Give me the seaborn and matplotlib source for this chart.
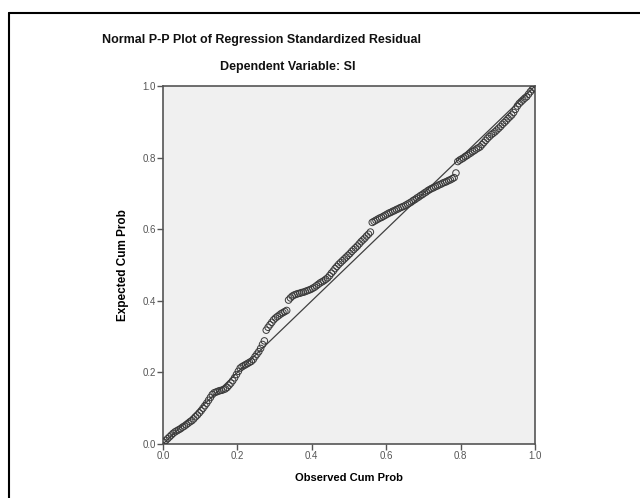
import matplotlib
matplotlib.use("Agg")
import matplotlib.pyplot as plt
import seaborn as sns
import pandas as pd

observed = [0.0025, 0.0075, 0.0125, 0.0175, 0.0225, 0.0275, 0.0325, 0.0375, 0.0425, 0.0475,
            0.0525, 0.0575, 0.0625, 0.0675, 0.0725, 0.0775, 0.0825, 0.0875, 0.0925, 0.0975,
            0.1025, 0.1075, 0.1125, 0.1175, 0.1225, 0.1275, 0.1325, 0.1375, 0.1425, 0.1475,
            0.1525, 0.1575, 0.1625, 0.1675, 0.1725, 0.1775, 0.1825, 0.1875, 0.1925, 0.1975,
            0.2025, 0.2075, 0.2125, 0.2175, 0.2225, 0.2275, 0.2325, 0.2375, 0.2425, 0.2475,
            0.2525, 0.2575, 0.2625, 0.2675, 0.2725, 0.2775, 0.2825, 0.2875, 0.2925, 0.2975,
            0.3025, 0.3075, 0.3125, 0.3175, 0.3225, 0.3275, 0.3325, 0.3375, 0.3425, 0.3475,
            0.3525, 0.3575, 0.3625, 0.3675, 0.3725, 0.3775, 0.3825, 0.3875, 0.3925, 0.3975,
            0.4025, 0.4075, 0.4125, 0.4175, 0.4225, 0.4275, 0.4325, 0.4375, 0.4425, 0.4475,
            0.4525, 0.4575, 0.4625, 0.4675, 0.4725, 0.4775, 0.4825, 0.4875, 0.4925, 0.4975,
            0.5025, 0.5075, 0.5125, 0.5175, 0.5225, 0.5275, 0.5325, 0.5375, 0.5425, 0.5475,
            0.5525, 0.5575, 0.5625, 0.5675, 0.5725, 0.5775, 0.5825, 0.5875, 0.5925, 0.5975,
            0.6025, 0.6075, 0.6125, 0.6175, 0.6225, 0.6275, 0.6325, 0.6375, 0.6425, 0.6475,
            0.6525, 0.6575, 0.6625, 0.6675, 0.6725, 0.6775, 0.6825, 0.6875, 0.6925, 0.6975,
            0.7025, 0.7075, 0.7125, 0.7175, 0.7225, 0.7275, 0.7325, 0.7375, 0.7425, 0.7475,
            0.7525, 0.7575, 0.7625, 0.7675, 0.7725, 0.7775, 0.7825, 0.7875, 0.7925, 0.7975,
            0.8025, 0.8075, 0.8125, 0.8175, 0.8225, 0.8275, 0.8325, 0.8375, 0.8425, 0.8475,
            0.8525, 0.8575, 0.8625, 0.8675, 0.8725, 0.8775, 0.8825, 0.8875, 0.8925, 0.8975,
            0.9025, 0.9075, 0.9125, 0.9175, 0.9225, 0.9275, 0.9325, 0.9375, 0.9425, 0.9475,
            0.9525, 0.9575, 0.9625, 0.9675, 0.9725, 0.9775, 0.9825, 0.9875, 0.9925, 0.9975]
expected = [0.005, 0.010, 0.015, 0.020, 0.025, 0.030, 0.034, 0.037, 0.040, 0.043,
            0.047, 0.050, 0.054, 0.058, 0.062, 0.065, 0.070, 0.076, 0.081, 0.087,
            0.093, 0.100, 0.107, 0.114, 0.122, 0.130, 0.138, 0.143, 0.145, 0.147,
            0.149, 0.150, 0.152, 0.154, 0.158, 0.164, 0.170, 0.177, 0.185, 0.194,
            0.203, 0.212, 0.216, 0.219, 0.222, 0.225, 0.228, 0.231, 0.236, 0.244,
            0.251, 0.258, 0.267, 0.278, 0.288, 0.318, 0.326, 0.333, 0.340, 0.347,
            0.352, 0.356, 0.360, 0.364, 0.367, 0.370, 0.373, 0.402, 0.408, 0.413,
            0.416, 0.418, 0.420, 0.421, 0.423, 0.424, 0.426, 0.428, 0.430, 0.432,
            0.435, 0.438, 0.442, 0.446, 0.450, 0.453, 0.456, 0.460, 0.464, 0.470,
            0.477, 0.483, 0.490, 0.496, 0.502, 0.507, 0.512, 0.517, 0.522, 0.527,
            0.532, 0.538, 0.543, 0.548, 0.553, 0.559, 0.565, 0.570, 0.575, 0.581,
            0.586, 0.592, 0.619, 0.622, 0.625, 0.628, 0.631, 0.633, 0.636, 0.639,
            0.642, 0.645, 0.647, 0.650, 0.652, 0.655, 0.657, 0.660, 0.662, 0.664,
            0.667, 0.670, 0.673, 0.676, 0.680, 0.683, 0.687, 0.690, 0.694, 0.697,
            0.701, 0.704, 0.708, 0.711, 0.714, 0.716, 0.719, 0.721, 0.724, 0.726,
            0.729, 0.731, 0.733, 0.736, 0.738, 0.741, 0.744, 0.757, 0.789, 0.793,
            0.796, 0.799, 0.803, 0.806, 0.810, 0.813, 0.817, 0.820, 0.824, 0.827,
            0.830, 0.836, 0.842, 0.848, 0.854, 0.859, 0.864, 0.868, 0.872, 0.877,
            0.882, 0.887, 0.893, 0.898, 0.903, 0.909, 0.914, 0.919, 0.926, 0.935,
            0.944, 0.951, 0.956, 0.961, 0.966, 0.970, 0.977, 0.984, 0.990, 0.995]
ref_line = [0.0, 1.0]
ticks = [0.0, 0.2, 0.4, 0.6, 0.8, 1.0]
tick_labels = ["0.0", "0.2", "0.4", "0.6", "0.8", "1.0"]

sns.set_theme(style="white")
plt.rcParams["font.family"] = ["Liberation Sans", "DejaVu Sans"]

fig = plt.figure(figsize=(6.4, 4.98), dpi=100)
fig.patch.set_facecolor("white")

# page frame
fig.add_artist(plt.Line2D([9/640, 9/640], [0, 1 - 13/498], color="black", lw=1.5))
fig.add_artist(plt.Line2D([9/640, 1], [1 - 13/498, 1 - 13/498], color="black", lw=1.5))

ax = fig.add_axes([163/640, 54/498, 372/640, 358/498])
ax.set_facecolor("#F0F0F0")

df = pd.DataFrame({"Observed Cum Prob": observed, "Expected Cum Prob": expected})
sns.lineplot(x=ref_line, y=ref_line, ax=ax, color="#404040", lw=0.9)
sns.scatterplot(data=df, x="Observed Cum Prob", y="Expected Cum Prob", ax=ax,
                marker="o", s=22, facecolor="none", edgecolor="#3a3a3a",
                linewidth=0.7, zorder=3)

ax.set_xlim(0, 1)
ax.set_ylim(0, 1)
ax.set_xticks(ticks)
ax.set_xticklabels(tick_labels)
ax.set_yticks(ticks)
ax.set_yticklabels(tick_labels)
ax.tick_params(axis="both", direction="out", length=4, width=1.0, color="#555555",
               labelsize=7, labelcolor="#555555", pad=1, bottom=True, left=True)
for sp in ax.spines.values():
    sp.set_color("#555555")
    sp.set_linewidth(1.2)

ax.set_xlabel("Observed Cum Prob", fontsize=8, fontweight="bold", color="black", labelpad=9)
ax.set_ylabel("Expected Cum Prob", fontsize=8.5, fontweight="bold", color="black", labelpad=10)

fig.text(262/640, 1 - 40/498, "Normal P-P Plot of Regression Standardized Residual",
         ha="center", va="center", fontsize=9, fontweight="bold", color="#111111")
fig.text(288/640, 1 - 67/498, "Dependent Variable: SI",
         ha="center", va="center", fontsize=9, fontweight="bold", color="#111111")

fig.savefig("out.png", dpi=100)
